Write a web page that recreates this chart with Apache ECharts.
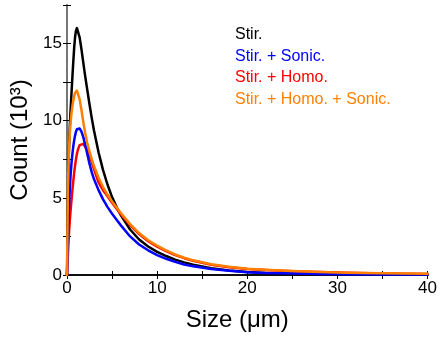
<!DOCTYPE html>
<html>
<head>
<meta charset="utf-8">
<script src="https://cdn.jsdelivr.net/npm/echarts@6/dist/echarts.min.js"></script>
<style>html,body{margin:0;padding:0;background:#fff}#c{width:440px;height:341px}</style>
</head>
<body>
<div id="c"></div>
<script>
var seriesNames = ['Stir.', 'Stir. + Sonic.', 'Stir. + Homo.', 'Stir. + Homo. + Sonic.'];
var sizes =         [0, 0.1, 0.2, 0.3, 0.4, 0.5, 0.6, 0.7, 0.8, 0.9, 1.0, 1.1, 1.2, 1.4, 1.6, 1.8, 2.0, 2.25, 2.5, 2.75, 3.0, 3.5, 4.0, 4.5, 5.0, 5.5, 6.0, 7, 8, 9, 10, 11, 12, 13, 14, 16, 18, 20, 22, 25, 28, 31, 35, 40];
var stir =          [0, 4.8, 7.8, 9.5, 10.7, 11.8, 12.85, 13.85, 14.75, 15.45, 15.85, 16.0, 15.95, 15.4, 14.65, 13.8, 12.95, 12.0, 11.05, 10.15, 9.35, 7.95, 6.8, 5.85, 5.05, 4.4, 3.85, 2.95, 2.3, 1.85, 1.5, 1.23, 1.0, 0.82, 0.67, 0.44, 0.29, 0.19, 0.13, 0.08, 0.05, 0.04, 0.03, 0.02];
var stirSonic =     [0, 2.3, 4.1, 5.45, 6.5, 7.25, 7.85, 8.35, 8.75, 9.05, 9.3, 9.45, 9.53, 9.5, 9.3, 8.95, 8.5, 7.85, 7.2, 6.65, 6.2, 5.5, 4.9, 4.4, 3.97, 3.58, 3.2, 2.5, 1.98, 1.6, 1.29, 1.05, 0.85, 0.68, 0.56, 0.39, 0.27, 0.18, 0.13, 0.09, 0.07, 0.05, 0.04, 0.03];
var stirHomo =      [0, 1.3, 2.5, 3.45, 4.2, 4.85, 5.5, 6.1, 6.65, 7.12, 7.52, 7.85, 8.1, 8.42, 8.52, 8.5, 8.38, 8.1, 7.72, 7.3, 6.85, 6.0, 5.5, 5.1, 4.68, 4.3, 3.92, 3.23, 2.65, 2.19, 1.84, 1.55, 1.29, 1.09, 0.92, 0.67, 0.5, 0.39, 0.32, 0.25, 0.19, 0.14, 0.1, 0.07];
var stirHomoSonic = [0, 5.6, 7.9, 9.1, 9.9, 10.5, 10.95, 11.3, 11.6, 11.82, 11.93, 11.95, 11.85, 11.4, 10.7, 9.95, 9.25, 8.55, 8.0, 7.5, 7.05, 6.3, 5.7, 5.2, 4.77, 4.38, 4.0, 3.3, 2.72, 2.25, 1.9, 1.6, 1.33, 1.12, 0.95, 0.7, 0.53, 0.41, 0.34, 0.26, 0.2, 0.15, 0.11, 0.08];
var colors = ['#000000', '#0000FF', '#FF0000', '#FF8000'];
var xTicks = [0, 10, 20, 30, 40];
var yTicks = [0, 5, 10, 15];

var allValues = [stir, stirSonic, stirHomo, stirHomoSonic];
function pairs(vals) { return sizes.map(function (x, i) { return [x, vals[i]]; }); }

var FONT = 'Arial, "Liberation Sans", sans-serif';
var order = [0, 2, 1, 3];
var series = order.map(function (k, idx) {
  return {
    name: seriesNames[k], type: 'line', data: pairs(allValues[k]),
    showSymbol: false, smooth: false,
    lineStyle: { color: colors[k], width: 2.5, join: 'round', cap: 'round' }, itemStyle: { color: colors[k] },
    z: 2 + idx
  };
});

function baseAxis(extra) {
  var a = {
    axisLine: { show: true, lineStyle: { color: '#000', width: 1.5 } },
    axisTick: { show: true, inside: true, length: 4, lineStyle: { color: '#000', width: 1 } },
    minorTick: { show: false },
    splitLine: { show: false }, minorSplitLine: { show: false }
  };
  for (var k in extra) a[k] = extra[k];
  return a;
}

var chart = echarts.init(document.getElementById('c'), null, { renderer: 'canvas' });
chart.setOption({
  animation: false,
  backgroundColor: '#fff',
  grid: { left: 67, right: 8, top: 5, bottom: 66, containLabel: false },
  legend: {
    orient: 'vertical', left: 225, top: 22, itemWidth: 0, itemHeight: 0, itemGap: 5.5,
    selectedMode: false, icon: 'rect',
    textStyle: { fontSize: 16, fontFamily: FONT, lineHeight: 16 },
    data: seriesNames.map(function (n, i) { return { name: n, textStyle: { color: colors[i] } }; })
  },
  xAxis: [
    baseAxis({ type: 'value', min: 0, max: 40, interval: 5, position: 'bottom',
      axisLabel: { show: true, fontSize: 17, fontFamily: FONT, color: '#000', margin: 5,
        formatter: function (v) { return xTicks.indexOf(v) >= 0 ? String(v) : ''; } },
      name: 'Size (μm)', nameLocation: 'middle', nameGap: 33,
      nameTextStyle: { fontSize: 24, fontFamily: FONT, color: '#000', padding: [0, 20, 0, 0] } }),
    baseAxis({ type: 'value', min: 0, max: 40, interval: 5, position: 'top', axisLabel: { show: false } })
  ],
  yAxis: [
    baseAxis({ type: 'value', min: 0, max: 17.5, interval: 2.5, position: 'left',
      axisLabel: { show: true, fontSize: 17, fontFamily: FONT, color: '#000', margin: 5,
        formatter: function (v) { return yTicks.indexOf(v) >= 0 ? String(v) : ''; } },
      name: 'Count (10³)', nameLocation: 'middle', nameGap: 32,
      nameTextStyle: { fontSize: 24, fontFamily: FONT, color: '#000' } }),
    baseAxis({ type: 'value', min: 0, max: 17.5, interval: 2.5, position: 'right', axisLabel: { show: false },
      axisLine: { show: true, lineStyle: { color: '#888', width: 1.5 } } })
  ],
  series: series
});
</script>
</body>
</html>
